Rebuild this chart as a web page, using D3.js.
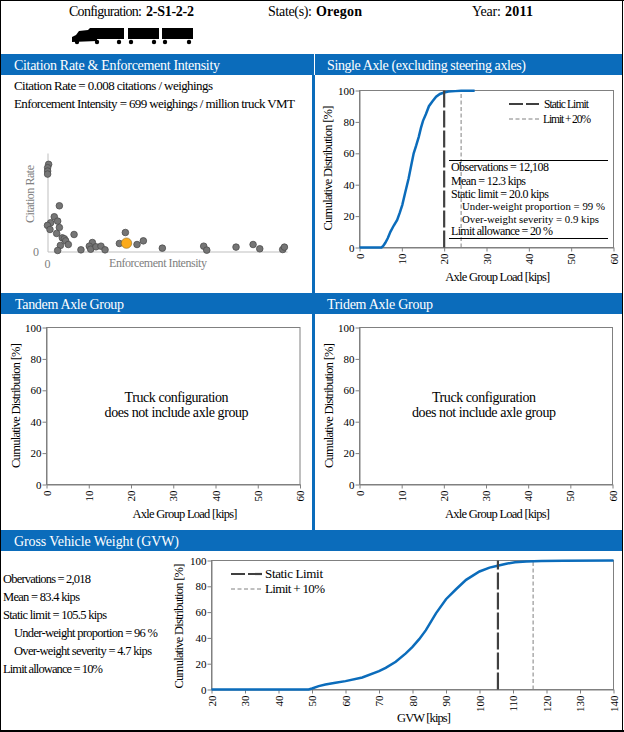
<!DOCTYPE html>
<html><head><meta charset="utf-8">
<script src="https://cdnjs.cloudflare.com/ajax/libs/d3/7.8.5/d3.min.js"></script>
<style>
html,body{margin:0;padding:0;background:#fff}
svg{display:block}
text{font-family:"Liberation Serif",serif;fill:#000}
</style></head><body>
<svg id="c" width="624" height="732"></svg>
<script>
// ---- data ----
const scatterEI = [10,1,1,1,105,60,90,28,0,105,22,81,235,131,149,161,184,114,90,296,397,370,382,429,473,509,689,636,792,848,1016,1382,1409,1668,1819,1878,2081,2096];
const scatterCR = [.0835,.0803,.0771,.0742,.0438,.0333,.0291,.0275,.025,.023,.0211,.0173,.0163,.0131,.0122,.0102,.0067,.0058,.001,.0016,.0086,.0051,.0022,.0045,.0051,.0016,.0182,.0077,.0067,.0102,.0032,.0051,.0013,.0042,.0067,.0026,.0019,.0042];
const currentEI = 699, currentCR = 0.008;

const singleKips = [0,5.2,5.6,6.1,6.7,7.3,8.1,8.9,9.5,10.1,10.8,11.6,12.2,12.8,13.4,14,14.5,15,15.7,16.4,17.2,18.1,19,20,21,22.6,24,27.2];
const singlePct  = [0,0,1,3,6,10,14,17.6,22,27,35,44,52,60,65,70.5,76,80.7,85,90,93,96,97.8,98.7,99.3,99.6,99.8,99.9];

const gvwKips = [20,49,50,52,54,57,60,65,70,72,75,78,80,82,84,87,90,93,96,100,103,105.4,108,110.6,114,118.5,125,140];
const gvwPct  = [0,0,.8,2.6,3.9,5.3,6.5,9.3,14.2,16.8,21.5,28,33,39,46,59,70,77.7,85,91.5,94.5,96,97.5,98.7,99.3,99.7,99.9,100];

const pctTicks = [0,20,40,60,80,100];
const axleTicks = [0,10,20,30,40,50,60];
const gvwTicks = [20,30,40,50,60,70,80,90,100,110,120,130,140];

const singleStats = ["Observations = 12,108","Mean = 12.3 kips","Static limit = 20.0 kips","Under-weight proportion = 99 %","Over-weight severity = 0.9 kips","Limit allowance = 20 %"];
const gvwStats = ["Obervations = 2,018","Mean = 83.4 kips","Static limit = 105.5 kips","Under-weight proportion = 96 %","Over-weight severity = 4.7 kips","Limit allowance = 10%"];
const wheelX = [77,97,119,131,154,165,189];
const trailerX = [[93,124],[128,159],[162,193]];

// ---- helpers ----
const BLUE="#0b6cbb", GREY="#808080";
const svg=d3.select("#c");
function T(x,y,s,o={}){
  const t=svg.append("text").attr("x",x).attr("y",y).attr("font-size",o.size||13).text(s);
  if(o.anchor)t.attr("text-anchor",o.anchor);
  if(o.fill)t.style("fill",o.fill);
  if(o.rot)t.attr("transform",`rotate(-90 ${x} ${y})`);
  if(o.bold)t.attr("font-weight","bold");
  if(o.w){t.attr("textLength",o.w).attr("lengthAdjust","spacing");}
  return t;
}
function R(x,y,w,h,f){svg.append("rect").attr("x",x).attr("y",y).attr("width",w).attr("height",h).attr("fill",f);}

// frame + section bars
R(0,54,312,21,BLUE); R(315,54,307,21,BLUE);
R(0,293,312,21,BLUE); R(315,293,307,21,BLUE);
R(0,530,622,21,BLUE);
R(312,75,3,455,BLUE);R(312,54,2,21,BLUE);R(312,293,2,21,BLUE);
R(0,0,624,1,"#000");R(0,0,1,732,"#000");R(622,0,1,732,"#000");R(0,730,624,2,"#000");

// header
T(69,16,"Configuration:",{size:14,w:73});T(146,16,"2-S1-2-2",{size:14,bold:true,w:48});
T(268,16,"State(s):",{size:14,w:44});T(316,16,"Oregon",{size:14,bold:true,w:46});
T(472,16,"Year:",{size:14,w:29});T(505,16,"2011",{size:14,bold:true,w:28});

// truck icon
trailerX.forEach(d=>R(d[0],28,d[1]-d[0],11,"#000"));
svg.append("path").attr("d",d3.line()([[72,42],[72,37],[76,35],[79,31],[88,30],[90,28],[93,28],[93,39],[97,39],[97,41],[72,42]])).attr("fill","#000");
svg.append("g").selectAll("circle").data(wheelX).join("circle").attr("cx",d=>d).attr("cy",42).attr("r",2.2).attr("fill","#000");

// section titles
T(14,70,"Citation Rate & Enforcement Intensity",{size:14,fill:"#fff",w:206});
T(327,70,"Single Axle (excluding steering axles)",{size:14,fill:"#fff",w:199});
T(15,309,"Tandem Axle Group",{size:14,fill:"#fff",w:109});
T(327,309,"Tridem Axle Group",{size:14,fill:"#fff",w:106});
T(14,546,"Gross Vehicle Weight (GVW)",{size:14,fill:"#fff",w:165});

// citation text
T(14,90,"Citation Rate = 0.008 citations / weighings",{size:13,w:199});
T(14,108,"Enforcement Intensity = 699 weighings / million truck VMT",{size:13,w:281});

// scatter
{
 const x=d3.scaleLinear().domain([0,2119]).range([47.5,287]);
 const y=d3.scaleLinear().domain([0,.0944]).range([251.5,153]);
 const g=svg.append("g");
 g.append("g").attr("transform","translate(0,251.5)").call(d3.axisBottom(x).tickValues([]).tickSize(0)).select(".domain").attr("stroke","#bfbfbf").attr("stroke-width",1);
 g.append("g").attr("transform","translate(47.5,0)").call(d3.axisLeft(y).tickValues([]).tickSize(0)).select(".domain").attr("stroke","#bfbfbf").attr("stroke-width",1);
 g.append("g").selectAll("circle").data(scatterEI.map((d,i)=>[d,scatterCR[i]])).join("circle")
  .attr("cx",d=>x(d[0])).attr("cy",d=>y(d[1])).attr("r",3.3).attr("fill","#757575").attr("stroke","#4d4d4d").attr("stroke-width",.8);
 g.append("circle").attr("cx",x(currentEI)).attr("cy",y(currentCR)).attr("r",5.2).attr("fill","#fbaa1a").attr("stroke","#8a6a20").attr("stroke-width",.6);
 T(36,256,"0",{size:12,anchor:"middle",fill:GREY});
 T(47.5,268,"0",{size:12,anchor:"middle",fill:GREY});
 T(158,267,"Enforcement Intensity",{size:12,anchor:"middle",fill:GREY,w:98});
 T(34,194,"Citation Rate",{size:12,anchor:"middle",fill:GREY,rot:true,w:58});
}

function plot(o){
 const x=d3.scaleLinear().domain(o.xd).range([o.l,o.r]);
 const y=d3.scaleLinear().domain([0,100]).range([o.b,o.t]);
 svg.append("rect").attr("x",o.l).attr("y",o.t).attr("width",o.r-o.l).attr("height",o.b-o.t).attr("fill","none").attr("stroke",GREY);
 const ax=svg.append("g").attr("transform",`translate(0,${o.b})`).call(d3.axisBottom(x).tickValues(o.xt).tickSize(4).tickSizeOuter(0));
 ax.selectAll("text").attr("transform","rotate(-90)").attr("x",-6).attr("y",0).attr("dy","0.33em").attr("text-anchor","end").attr("font-size",11);
 const ay=svg.append("g").attr("transform",`translate(${o.l},0)`).call(d3.axisLeft(y).tickValues(pctTicks).tickSize(4).tickSizeOuter(0));
 ay.selectAll("text").attr("font-size",11).attr("x",-5);
 svg.selectAll(".tick line").attr("stroke",GREY);
 ax.select(".domain").attr("stroke",GREY);ay.select(".domain").attr("stroke",GREY);
 T(o.xtx,o.xty,o.xt_label,{size:12.5,anchor:"middle",w:o.xtw});
 T(o.ytx,o.yty,"Cumulative Distribution [%]",{size:12.5,anchor:"middle",rot:true,w:125});
 return {x,y};
}
function lim(s,v,strong){
 const c=svg.append("line").attr("x1",s.x(v)).attr("x2",s.x(v)).attr("y1",s.y(0)).attr("y2",s.y(100));
 if(strong)c.attr("stroke","#404040").attr("stroke-width",2.2).attr("stroke-dasharray","17 3");
 else c.attr("stroke",GREY).attr("stroke-width",1).attr("stroke-dasharray","4 2.5");
}
function legend(x1,x2,y,tx,label,strong,size,w){
 const c=svg.append("line").attr("x1",x1).attr("x2",x2).attr("y1",y).attr("y2",y);
 if(strong)c.attr("stroke","#404040").attr("stroke-width",2.2).attr("stroke-dasharray","14 3");
 else c.attr("stroke",GREY).attr("stroke-width",1).attr("stroke-dasharray","4 2.5");
 T(tx,y+4,label,{size,w});
}
function cdf(s,xs,ys){
 svg.append("path").attr("d",d3.line().x(d=>s.x(d[0])).y(d=>s.y(d[1]))(xs.map((d,i)=>[d,ys[i]])))
  .attr("fill","none").attr("stroke",BLUE).attr("stroke-width",2.5);
}

// single axle
{
 const s=plot({xd:[0,60],l:359.5,r:613.5,t:90.5,b:247.5,xt:axleTicks,xt_label:"Axle Group Load [kips]",xtx:497.7,xty:281,xtw:105,ytx:332,yty:168});
 lim(s,24,false);
 cdf(s,singleKips,singlePct);
 lim(s,20,true);
 legend(509,539,104,544,"Static Limit",true,11.5,45);
 legend(509,539,119,543,"Limit + 20%",false,11.5,48);
 R(449,160,159,1,"#000");R(449,238,159,1,"#000");
 const ys=[171,185,198,210,222.5,235], xs=[451,451,451,462,462,451], ws=[98,75,98,143,137,102], zs=[12,12,12,10.8,10.8,12];
 singleStats.forEach((t,i)=>T(xs[i],ys[i],t,{size:zs[i],w:ws[i]}));
}
// tandem & tridem
[[46.5,300,185,16,176.6],[359.5,612.5,497.5,329,484]].forEach(a=>{
 plot({xd:[0,60],l:a[0],r:a[1],t:327.5,b:484.5,xt:axleTicks,xt_label:"Axle Group Load [kips]",xtx:a[2],xty:518,xtw:105,ytx:a[3]+4,yty:405.5});
 T(a[4],402,"Truck configuration",{size:14,anchor:"middle",w:104});
 T(a[4],417,"does not include axle group",{size:14,anchor:"middle",w:144});
});
// gvw
{
 const s=plot({xd:[20,140],l:211.5,r:613.5,t:560.5,b:689.5,xt:gvwTicks,xt_label:"GVW [kips]",xtx:424,xty:722,xtw:54,ytx:183,yty:626});
 lim(s,116,false);
 cdf(s,gvwKips,gvwPct);
 lim(s,105.5,true);
 legend(231,262,574,265,"Static Limit",true,13,58);
 legend(231,262,589,265,"Limit + 10%",false,13,60);
 const ys=[583,601,619,637,655,673], xs=[3,3,3,14,14,3], ws=[88,77,104,144,138,100];
 gvwStats.forEach((t,i)=>T(xs[i],ys[i],t,{size:12.5,w:ws[i]}));
}
</script>
</body></html>
